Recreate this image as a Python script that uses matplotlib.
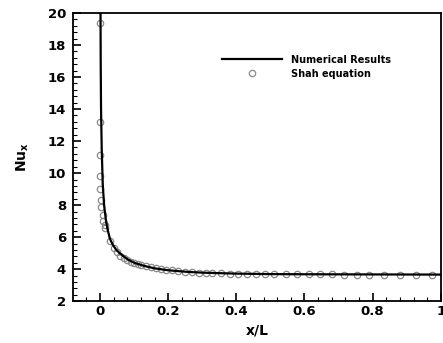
import numpy as np
import matplotlib
matplotlib.use("Agg")
import matplotlib.pyplot as plt
from matplotlib.ticker import MultipleLocator

# --- Numerical results ---
x_num = [0.0015, 0.002, 0.003, 0.005, 0.008, 0.012, 0.017, 0.022, 0.029, 0.038,
         0.048, 0.06, 0.082, 0.1, 0.13, 0.16, 0.2, 0.25, 0.3, 0.4, 0.5, 0.6, 0.8, 1.0]
nu_num = [20.0, 17.0, 14.0, 11.5, 9.3, 8.0, 7.1, 6.5, 5.9, 5.5,
          5.2, 4.95, 4.6, 4.4, 4.2, 4.05, 3.93, 3.84, 3.78, 3.72, 3.69, 3.68, 3.67, 3.66]

# --- Shah equation points ---
x_shah = [0.0, 0.0, 0.0, 0.0, 0.0, 0.003, 0.003, 0.008, 0.01, 0.014, 0.016,
          0.03, 0.04, 0.05, 0.06, 0.07, 0.08, 0.09, 0.10, 0.11, 0.12, 0.135,
          0.15, 0.165, 0.18, 0.195, 0.21, 0.23, 0.25, 0.27, 0.29, 0.31, 0.33,
          0.355, 0.38, 0.405, 0.43, 0.458, 0.485, 0.512, 0.545, 0.577, 0.612,
          0.647, 0.682, 0.717, 0.754, 0.79, 0.833, 0.88, 0.926, 0.974]
nu_shah = [19.4, 13.2, 11.1, 9.8, 9.0, 8.3, 7.9, 7.4, 7.0, 6.75, 6.6,
           5.75, 5.35, 5.05, 4.85, 4.7, 4.57, 4.47, 4.39, 4.32, 4.26, 4.18,
           4.11, 4.05, 4.0, 3.96, 3.92, 3.88, 3.84, 3.81, 3.79, 3.77, 3.75,
           3.74, 3.72, 3.71, 3.70, 3.69, 3.69, 3.68, 3.68, 3.67, 3.67,
           3.67, 3.67, 3.66, 3.66, 3.66, 3.66, 3.66, 3.66, 3.66]

plt.rcParams["font.family"] = "DejaVu Sans"
plt.rcParams["mathtext.fontset"] = "dejavusans"

fig = plt.figure(figsize=(4.43, 3.43), dpi=100)
ax = fig.add_axes([0.165, 0.122, 0.83, 0.840])

ax.plot(x_num, nu_num, color="black", lw=1.6, label="Numerical Results", zorder=3)
ax.plot(x_shah, nu_shah, "o", mfc="none", mec="#8a8a8a", ms=4.6, mew=0.9,
        label="Shah equation", zorder=2)

ax.set_xlim(-0.079, 1.0)
ax.set_ylim(2, 20)
ax.xaxis.set_major_locator(MultipleLocator(0.2))
ax.xaxis.set_minor_locator(MultipleLocator(0.04))
ax.yaxis.set_major_locator(MultipleLocator(2))
ax.yaxis.set_minor_locator(MultipleLocator(0.4))
ax.tick_params(which="both", direction="in", top=False, right=False)
ax.tick_params(which="major", length=6, width=1.2, labelsize=9.5)
ax.tick_params(which="minor", length=3, width=0.8)
ax.tick_params(axis="x", pad=3)
ax.tick_params(axis="y", pad=5)
ax.set_xticklabels([f"{t:g}" for t in ax.get_xticks()])
for lab in ax.get_xticklabels() + ax.get_yticklabels():
    lab.set_fontweight("bold")
for s in ax.spines.values():
    s.set_linewidth(1.3)

ax.set_xlabel("x/L", fontsize=10, fontweight="bold", labelpad=4)
ax.set_ylabel(r"Nu$_\mathbf{x}$", fontsize=10, fontweight="bold", labelpad=12)

ax.legend(loc="upper left", bbox_to_anchor=(0.405, 0.855), frameon=False,
          borderpad=0, borderaxespad=0,
          handlelength=6.2, handletextpad=0.9, labelspacing=0.4,
          prop={"weight": "bold", "size": 7})

fig.savefig("out.png", dpi=100)
